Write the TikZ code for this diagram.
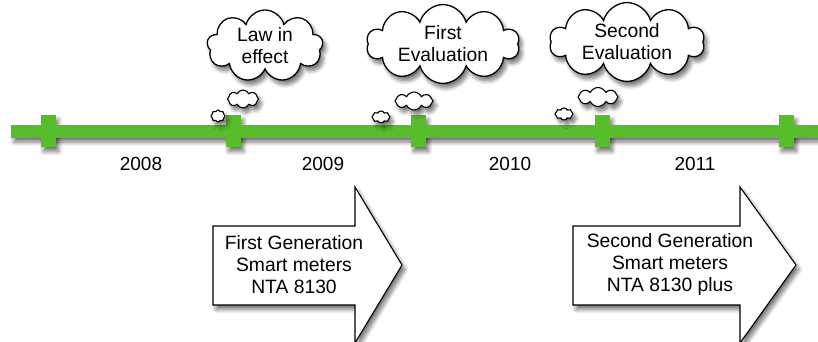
\documentclass[tikz,border=0pt]{standalone}
\usepackage{fontspec}
\setmainfont{Liberation Sans}
\usetikzlibrary{shapes.symbols,shadows.blur}
\definecolor{tlgreen}{RGB}{88,189,42}
\tikzset{
  softshadow/.style={blur shadow={shadow xshift=3pt,shadow yshift=-4.5pt,shadow blur steps=8,shadow opacity=55,shadow blur radius=4pt}},
  thought/.style={cloud,cloud ignores aspect,draw=black,line width=1.3pt,fill=white,softshadow,
    inner sep=0pt,align=center,font=\fontsize{19.3}{22}\selectfont},
  puff/.style={cloud,cloud puffs=8,cloud puff arc=130,cloud ignores aspect,draw=black,line width=1.1pt,fill=white,softshadow,inner sep=0pt},
  tickbar/.style={rectangle,fill=tlgreen,minimum width=15pt,minimum height=32pt,inner sep=0pt},
  year/.style={font=\fontsize{19}{22}\selectfont,inner sep=0pt},
  bigarrow/.style={draw=black,line width=1.1pt,fill=white,line join=miter,softshadow},
  arrowtext/.style={align=center,font=\fontsize{19.3}{22}\selectfont,inner sep=0pt}
}
\begin{document}
\begin{tikzpicture}[x=1pt,y=-1pt]
\useasboundingbox (0,0) rectangle (818,342);

% timeline bar: shadows first, then the green shapes on top
\fill[tlgreen,softshadow] (11,125) rectangle (840,137.5);
\foreach \x in {48,233,418,602,786}
  \node[tickbar,softshadow] at (\x,131) {};
\fill[tlgreen] (11,125) rectangle (840,137.5);
\foreach \i/\x in {0/48,1/233,2/418,3/602,4/786}
  \node[tickbar] (t\i) at (\x,131) {};

% years between the ticks
\node[year] (y2008) at (141,164) {2008};
\node[year] (y2009) at (323,164) {2009};
\node[year] (y2010) at (510,164) {2010};
\node[year] (y2011) at (695,164) {2011};

% thought bubbles
\node[puff,minimum width=14pt,minimum height=12pt] (p1a) at (218,116) {};
\node[puff,minimum width=31pt,minimum height=18pt] (p1b) at (243,99) {};
\node[thought,cloud puffs=9,minimum width=116pt,minimum height=72pt] (law) at (265,46) {Law in\\effect};

\node[puff,minimum width=18pt,minimum height=12pt] (p2a) at (381,117) {};
\node[puff,minimum width=38pt,minimum height=18pt] (p2b) at (414,101) {};
\node[thought,cloud puffs=10,minimum width=153pt,minimum height=72pt] (eval1) at (443,44) {First\\Evaluation};

\node[puff,minimum width=18pt,minimum height=12pt] (p3a) at (564,114) {};
\node[puff,minimum width=40pt,minimum height=19pt] (p3b) at (598,97) {};
\node[thought,cloud puffs=10,minimum width=155pt,minimum height=71pt] (eval2) at (627,42) {Second\\Evaluation};

% generation arrows
\draw[bigarrow] (213,226) -- (355,226) -- (355,187) -- (402,265) -- (355,343) -- (355,305) -- (213,305) -- cycle;
\node[arrowtext] (gen1) at (294,265) {First Generation\\Smart meters\\NTA 8130};

\draw[bigarrow] (573,226) -- (740,226) -- (740,187) -- (796,265) -- (740,343) -- (740,305) -- (573,305) -- cycle;
\node[arrowtext] (gen2) at (670,265) {Second Generation\\Smart meters\\NTA 8130 plus};
\end{tikzpicture}
\end{document}
